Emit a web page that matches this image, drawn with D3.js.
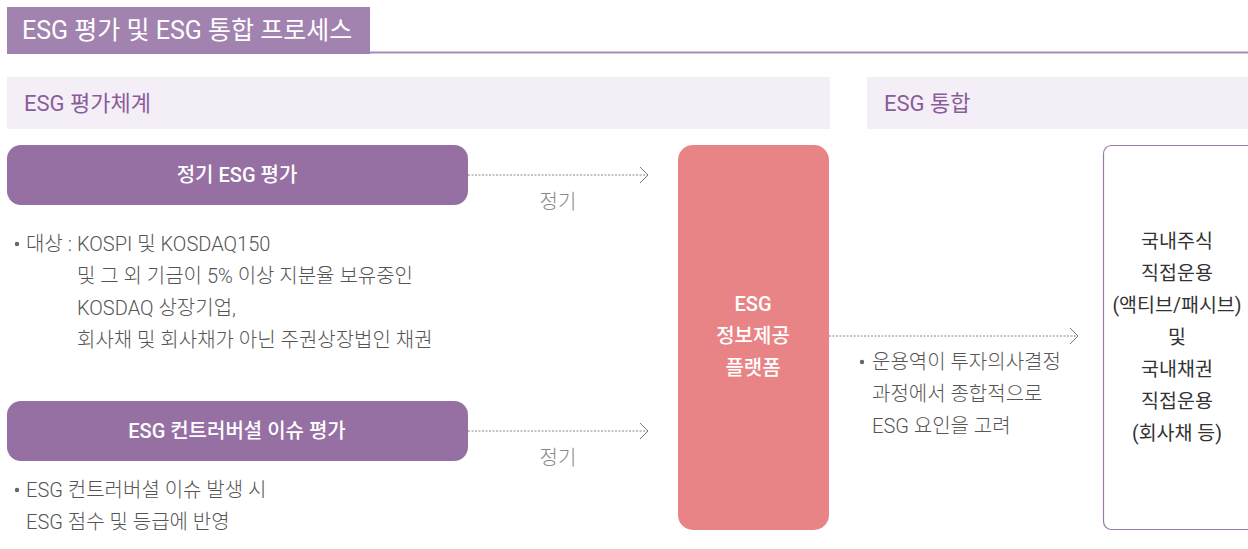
<!DOCTYPE html>
<html lang="ko">
<head>
<meta charset="UTF-8">
<script src="https://d3js.org/d3.v7.min.js"></script>
<title>ESG 평가 및 ESG 통합 프로세스</title>
<style>
  body { margin: 0; background: #fff; }
  svg { display: block; font-family: Roboto, "Noto Sans CJK KR", "Noto Sans", sans-serif; }
  text { white-space: pre; }
</style>
</head>
<body>
<svg width="1248" height="549"></svg>
<script>
// 텍스트 데이터
const title = "ESG 평가 및 ESG 통합 프로세스"
const sections = ["ESG 평가체계", "ESG 통합"]
const evalNames = ["정기 ESG 평가", "ESG 컨트러버셜 이슈 평가"]
const arrowLabels = ["정기", "정기"]
const targetLabel = "대상 :"
const evalDesc1 = ["KOSPI 및 KOSDAQ150", "및 그 외 기금이 5% 이상 지분율 보유중인", "KOSDAQ 상장기업,", "회사채 및 회사채가 아닌 주권상장법인 채권"]
const evalDesc2 = ["ESG 컨트러버셜 이슈 발생 시", "ESG 점수 및 등급에 반영"]
const platform = ["ESG", "정보제공", "플랫폼"]
const integDesc = ["운용역이 투자의사결정", "과정에서 종합적으로", "ESG 요인을 고려"]
const targets = ["국내주식", "직접운용", "(액티브/패시브)", "및", "국내채권", "직접운용", "(회사채 등)"]

const svg = d3.select("svg")
const purple = "#9670a3", pink = "#e88486", band = "#f4eff6", gray = "#555"

// 줄 간격 스케일
const line = d3.scaleLinear().domain([0, 1]).range([0, 32])

// 제목
svg.append("line").attr("x1", 7).attr("x2", 1248).attr("y1", 52.5).attr("y2", 52.5)
  .attr("stroke", "#a88cb6").attr("stroke-width", 2)
svg.append("rect").attr("x", 7).attr("y", 7).attr("width", 363).attr("height", 47).attr("fill", "#a283af")
svg.append("text").attr("x", 22).attr("y", 39).attr("fill", "#fff")
  .attr("font-size", 25).attr("font-weight", 400).text(title)

// 섹션 띠
const bands = [{x: 7, w: 823}, {x: 867, w: 381}]
bands.forEach((b, i) => {
  svg.append("rect").attr("x", b.x).attr("y", 77).attr("width", b.w).attr("height", 52).attr("fill", band)
  svg.append("text").attr("x", b.x + 17).attr("y", 111).attr("fill", "#8a5c9b")
    .attr("font-size", 22).attr("font-weight", 400).text(sections[i])
})

// 화살표
svg.append("defs").append("marker").attr("id", "chev")
  .attr("viewBox", "0 0 10 20").attr("refX", 9).attr("refY", 10)
  .attr("markerWidth", 10).attr("markerHeight", 20).attr("markerUnits", "userSpaceOnUse")
  .attr("orient", "auto")
  .append("path").attr("d", "M1,2 L9,10 L1,18").attr("fill", "none").attr("stroke", "#777").attr("stroke-width", 1)

const arrow = (x1, x2, y) => svg.append("line").attr("x1", x1).attr("x2", x2).attr("y1", y).attr("y2", y)
  .attr("stroke", "#888").attr("stroke-width", 1).attr("stroke-dasharray", "2,1.5")
  .attr("marker-end", "url(#chev)")

// 평가 알약
const pillY = [145, 401]
evalNames.forEach((n, i) => {
  svg.append("rect").attr("x", 7).attr("y", pillY[i]).attr("width", 461).attr("height", 60)
    .attr("rx", 14).attr("fill", purple)
  svg.append("text").attr("x", 237).attr("y", pillY[i] + 37).attr("text-anchor", "middle")
    .attr("fill", "#fff").attr("font-size", 20).attr("font-weight", 500).text(n)
  arrow(468, 648, pillY[i] + 30)
  svg.append("text").attr("x", 558).attr("y", pillY[i] + 64).attr("text-anchor", "middle")
    .attr("fill", "#888").attr("font-size", 20).attr("font-weight", 300).text(arrowLabels[i])
})

const lines = (arr, x0, x1, y0, opts) => {
  svg.selectAll(null).data(arr).enter().append("text")
    .attr("x", (d, i) => i === 0 ? x0 : x1)
    .attr("y", (d, i) => y0 + line(i))
    .attr("fill", opts.fill || gray)
    .attr("font-size", opts.size || 20)
    .attr("font-weight", opts.weight || 300)
    .attr("text-anchor", opts.anchor || "start")
    .text(d => d)
}
const bullet = (x, y) => svg.append("circle").attr("cx", x).attr("cy", y).attr("r", 2.2).attr("fill", "#666")

bullet(17, 244)
svg.append("text").attr("x", 26).attr("y", 251).attr("fill", gray).attr("font-size", 20)
  .attr("font-weight", 300).text(targetLabel)
lines(evalDesc1, 77, 77, 251, {})
bullet(17, 490)
lines(evalDesc2, 26, 26, 497, {})

// 플랫폼 박스
svg.append("rect").attr("x", 678).attr("y", 145).attr("width", 151).attr("height", 385)
  .attr("rx", 15).attr("fill", pink)
lines(platform, 753, 753, 311, {fill: "#fff", weight: 500, anchor: "middle", size: 20})

arrow(829, 1078, 336)
bullet(862, 362)
lines(integDesc, 872, 872, 369, {})

// 대상 박스
svg.append("rect").attr("x", 1103.5).attr("y", 145.5).attr("width", 160).attr("height", 384)
  .attr("rx", 8).attr("fill", "none").attr("stroke", "#9a7aa8").attr("stroke-width", 1.2)
lines(targets, 1177, 1177, 248, {fill: "#333", weight: 400, anchor: "middle", size: 19.5})
</script>
</body>
</html>
